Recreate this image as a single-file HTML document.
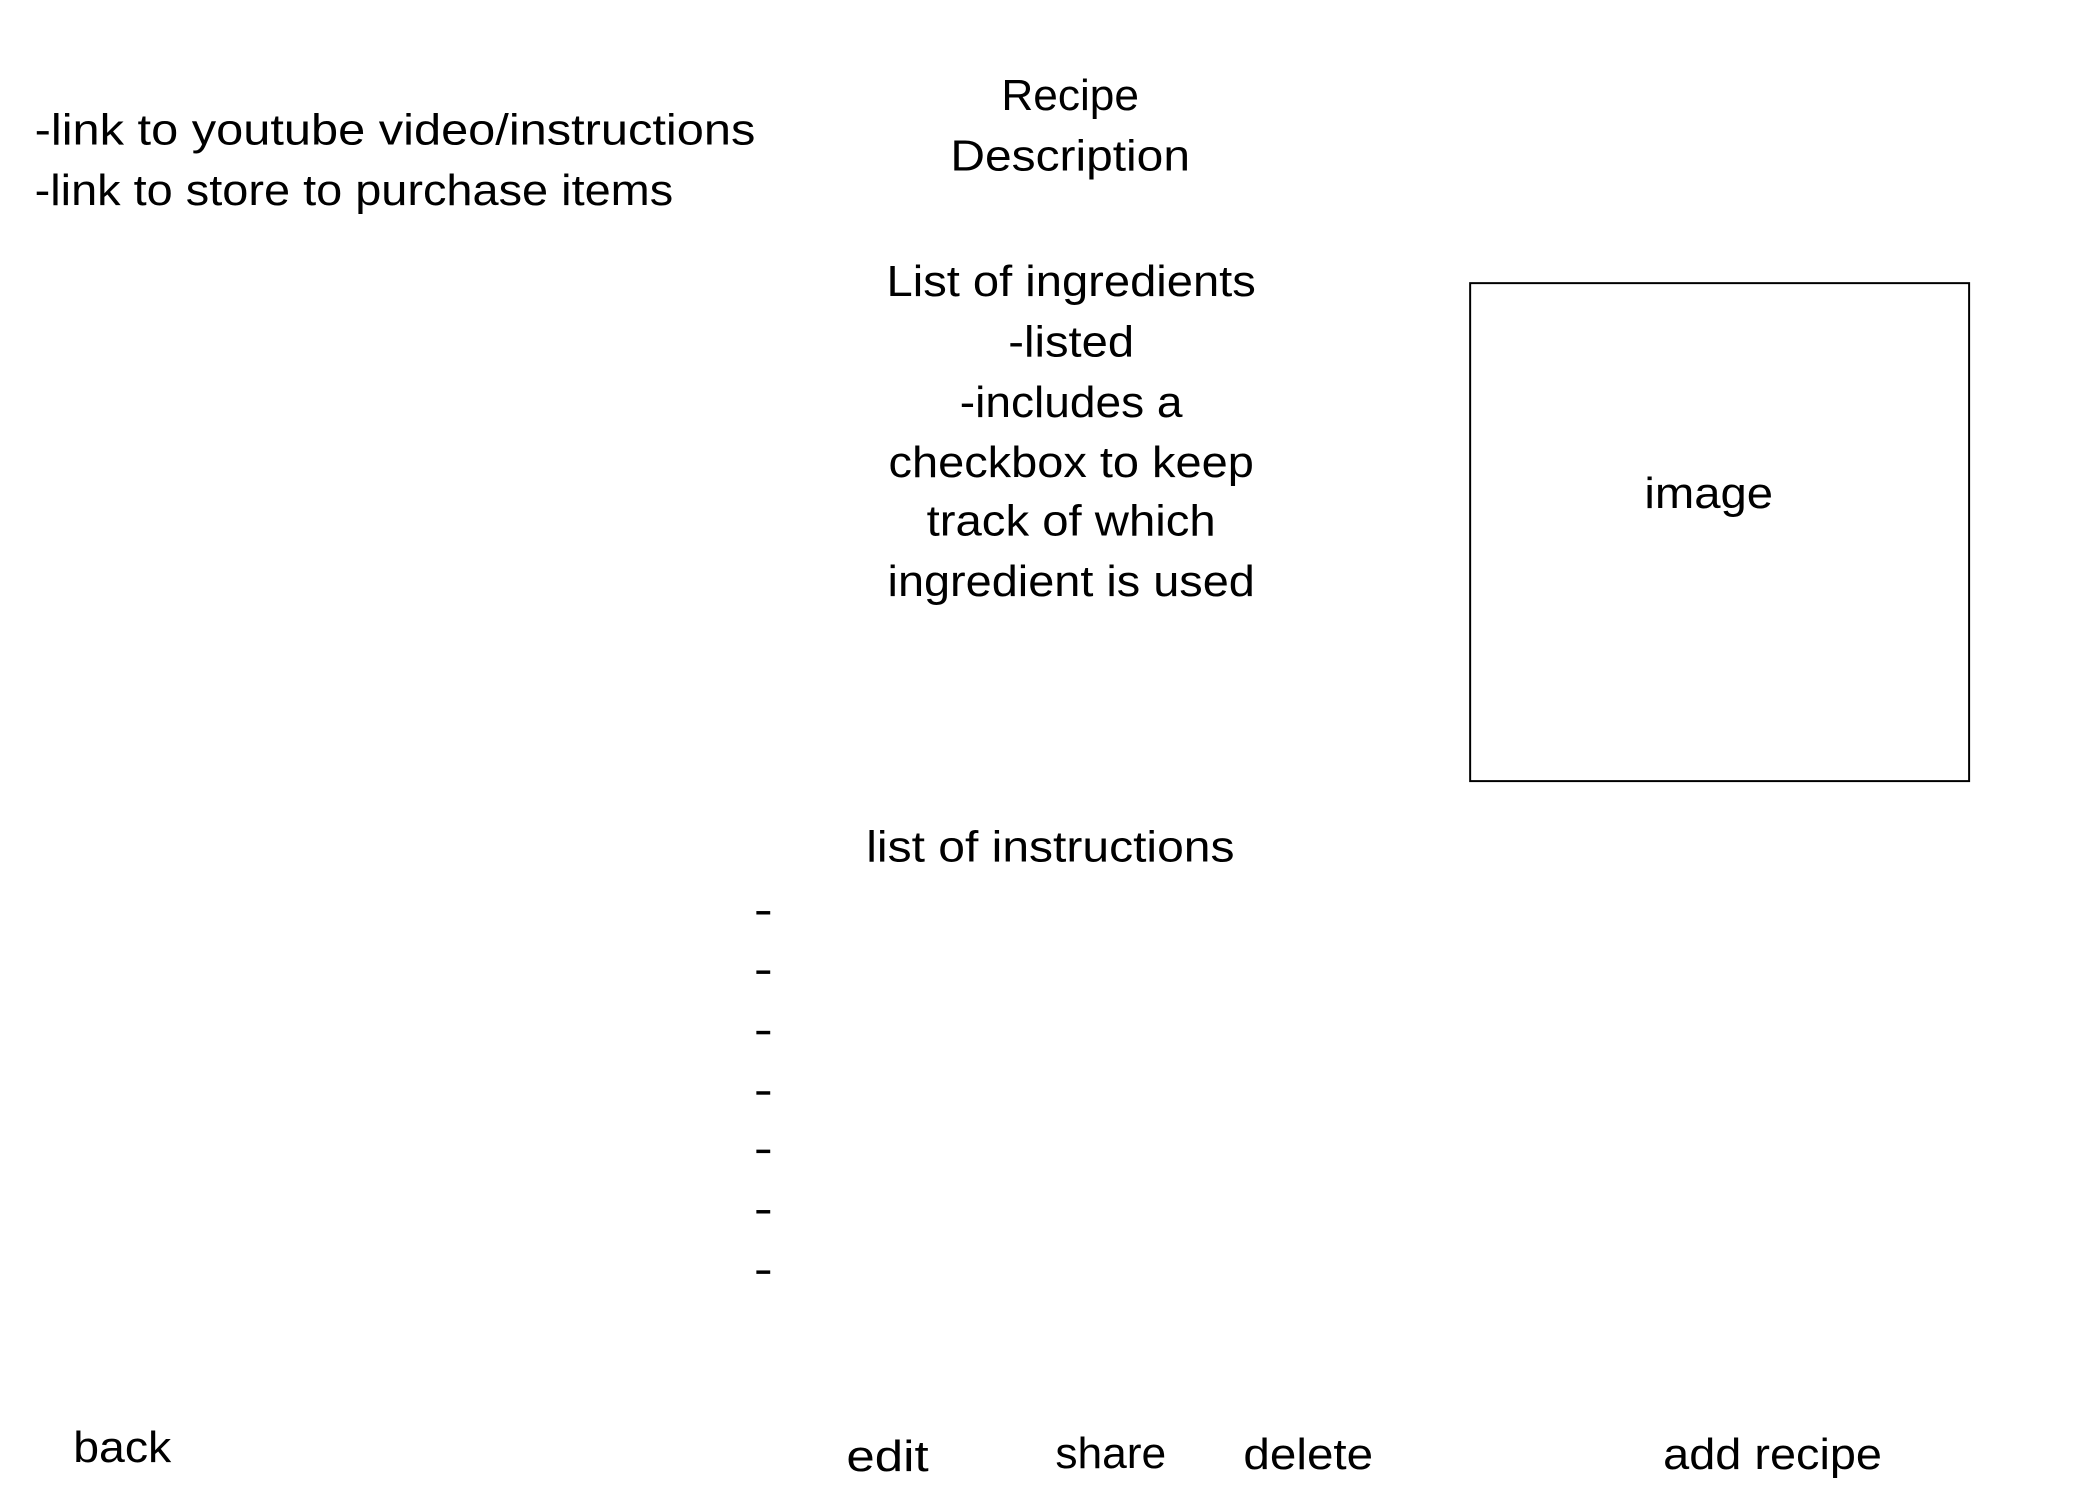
<!DOCTYPE html>
<html><head><meta charset="utf-8"><style>
html,body{margin:0;padding:0;background:#fff;width:2100px;height:1500px;overflow:hidden}
text{font-family:"Liberation Sans",sans-serif;font-size:44px;fill:#000}
</style></head><body>
<svg width="2100" height="1500" xmlns="http://www.w3.org/2000/svg">
<rect width="2100" height="1500" fill="#fff"/>
<g transform="scale(0.99)">
<text x="35" y="146" textLength="728" lengthAdjust="spacingAndGlyphs">-link to youtube video/instructions</text>
<text x="35" y="207" textLength="645" lengthAdjust="spacingAndGlyphs">-link to store to purchase items</text>
<g text-anchor="middle">
<text x="1081" y="111" textLength="139" lengthAdjust="spacingAndGlyphs">Recipe</text>
<text x="1081" y="172" textLength="242" lengthAdjust="spacingAndGlyphs">Description</text>
<text x="1082" y="299" textLength="373" lengthAdjust="spacingAndGlyphs">List of ingredients</text>
<text x="1082" y="360" textLength="127" lengthAdjust="spacingAndGlyphs">-listed</text>
<text x="1082" y="421" textLength="225" lengthAdjust="spacingAndGlyphs">-includes a</text>
<text x="1082" y="482" textLength="369" lengthAdjust="spacingAndGlyphs">checkbox to keep</text>
<text x="1082" y="541" textLength="292" lengthAdjust="spacingAndGlyphs">track of which</text>
<text x="1082" y="602" textLength="371" lengthAdjust="spacingAndGlyphs">ingredient is used</text>
<text x="1726" y="513" textLength="130" lengthAdjust="spacingAndGlyphs">image</text>
<text x="1061" y="870" textLength="372" lengthAdjust="spacingAndGlyphs">list of instructions</text>
</g>
<rect x="1485" y="286" width="504" height="503" fill="none" stroke="#000" stroke-width="2"/>
<g stroke="#000" stroke-width="3.5">
<line x1="764" y1="922" x2="778" y2="922"/>
<line x1="764" y1="982" x2="778" y2="982"/>
<line x1="764" y1="1043" x2="778" y2="1043"/>
<line x1="764" y1="1104" x2="778" y2="1104"/>
<line x1="764" y1="1163" x2="778" y2="1163"/>
<line x1="764" y1="1224" x2="778" y2="1224"/>
<line x1="764" y1="1285" x2="778" y2="1285"/>
</g>
<text x="74" y="1477" textLength="99" lengthAdjust="spacingAndGlyphs">back</text>
<text x="855" y="1486" textLength="83" lengthAdjust="spacingAndGlyphs">edit</text>
<text x="1066" y="1483" textLength="112" lengthAdjust="spacingAndGlyphs">share</text>
<text x="1256" y="1484" textLength="131" lengthAdjust="spacingAndGlyphs">delete</text>
<text x="1680" y="1484" textLength="221" lengthAdjust="spacingAndGlyphs">add recipe</text>
</g>
</svg>
</body></html>
